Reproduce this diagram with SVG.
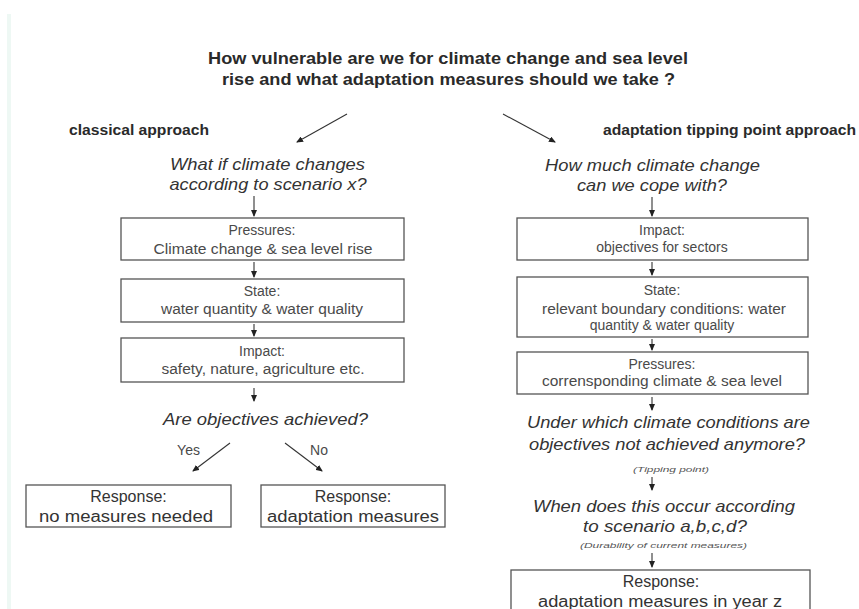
<svg xmlns="http://www.w3.org/2000/svg" width="859" height="609" viewBox="0 0 859 609">
<defs>
<style>
text{font-family:"Liberation Sans",Arial,sans-serif;text-anchor:middle}
.title{font-size:17px;font-weight:bold;fill:#2a2a2a}
.lbl{font-size:14px;font-weight:bold;fill:#2a2a2a}
.q{font-size:17px;font-style:italic;fill:#333}
.bt{font-size:14px;fill:#4a4a4a}
.rt{font-size:16px;fill:#333}
.small{font-size:8px;font-style:italic;fill:#555}
.box{fill:#fff;stroke:#555;stroke-width:1.3}
.arr{stroke:#333;stroke-width:1.1;fill:none;marker-end:url(#ah)}
</style>
<marker id="ah" markerWidth="7" markerHeight="6" refX="6" refY="3" orient="auto" markerUnits="userSpaceOnUse">
<path d="M0,0 L7,3 L0,6 z" fill="#222"/>
</marker>
</defs>
<rect width="859" height="609" fill="#fff"/>
<rect x="7" y="14" width="4" height="595" fill="#eef8f4"/>

<g id="title">
<text class="title" x="448" y="64" textLength="480" lengthAdjust="spacingAndGlyphs">How vulnerable are we for climate change and sea level</text>
<text class="title" x="448.5" y="85" textLength="453" lengthAdjust="spacingAndGlyphs">rise and what adaptation measures should we take ?</text>
</g>

<g id="label-classical"><text class="lbl" x="139" y="135" textLength="140" lengthAdjust="spacingAndGlyphs">classical approach</text></g>
<g id="label-tipping"><text class="lbl" x="729.5" y="135" textLength="253" lengthAdjust="spacingAndGlyphs">adaptation tipping point approach</text></g>

<g id="q-left">
<text class="q" x="267.5" y="170" textLength="195" lengthAdjust="spacingAndGlyphs">What if climate changes</text>
<text class="q" x="268" y="190" textLength="197" lengthAdjust="spacingAndGlyphs">according to scenario x?</text>
</g>
<g id="q-right">
<text class="q" x="652.5" y="171" textLength="215" lengthAdjust="spacingAndGlyphs">How much climate change</text>
<text class="q" x="652" y="191" textLength="150" lengthAdjust="spacingAndGlyphs">can we cope with?</text>
</g>

<g id="l-pressures">
<rect class="box" x="121" y="218" width="283" height="42"/>
<text class="bt" x="262" y="235">Pressures:</text>
<text class="bt" x="263" y="254" textLength="219" lengthAdjust="spacingAndGlyphs">Climate change &amp; sea level  rise</text>
</g>
<g id="l-state">
<rect class="box" x="121" y="279" width="283" height="43"/>
<text class="bt" x="262" y="296">State:</text>
<text class="bt" x="262" y="314" textLength="202" lengthAdjust="spacingAndGlyphs">water quantity  &amp; water quality</text>
</g>
<g id="l-impact">
<rect class="box" x="121" y="338" width="283" height="44"/>
<text class="bt" x="262" y="356">Impact:</text>
<text class="bt" x="263" y="374" textLength="203" lengthAdjust="spacingAndGlyphs">safety, nature,  agriculture etc.</text>
</g>

<g id="q-achieved"><text class="q" x="265.5" y="425" textLength="205" lengthAdjust="spacingAndGlyphs">Are objectives achieved?</text></g>
<g id="lbl-yes"><text class="bt" x="188.5" y="455">Yes</text></g>
<g id="lbl-no"><text class="bt" x="319" y="455">No</text></g>

<g id="resp-none">
<rect class="box" x="26" y="485" width="205" height="42"/>
<text class="rt" x="128.5" y="502">Response:</text>
<text class="rt" x="126" y="522" textLength="174" lengthAdjust="spacingAndGlyphs">no measures needed</text>
</g>
<g id="resp-adapt">
<rect class="box" x="261" y="485" width="184" height="42"/>
<text class="rt" x="353" y="502">Response:</text>
<text class="rt" x="353" y="522" textLength="172" lengthAdjust="spacingAndGlyphs">adaptation measures</text>
</g>

<g id="r-impact">
<rect class="box" x="517" y="218" width="291" height="42"/>
<text class="bt" x="662" y="235">Impact:</text>
<text class="bt" x="662" y="252">objectives for sectors</text>
</g>
<g id="r-state">
<rect class="box" x="517" y="277" width="291" height="60"/>
<text class="bt" x="662" y="295">State:</text>
<text class="bt" x="664" y="314" textLength="244" lengthAdjust="spacingAndGlyphs">relevant boundary conditions: water</text>
<text class="bt" x="662" y="330">quantity &amp; water quality</text>
</g>
<g id="r-pressures">
<rect class="box" x="517" y="352" width="291" height="42"/>
<text class="bt" x="662" y="369">Pressures:</text>
<text class="bt" x="662" y="386" textLength="240" lengthAdjust="spacingAndGlyphs">corrensponding climate &amp; sea level</text>
</g>

<g id="q-under">
<text class="q" x="668.5" y="428" textLength="283" lengthAdjust="spacingAndGlyphs">Under which climate conditions are</text>
<text class="q" x="667" y="450" textLength="276" lengthAdjust="spacingAndGlyphs">objectives not achieved anymore?</text>
<text class="small" x="671" y="472" textLength="76" lengthAdjust="spacingAndGlyphs">(Tipping point)</text>
</g>
<g id="q-when">
<text class="q" x="664" y="512" textLength="262" lengthAdjust="spacingAndGlyphs">When does this occur according</text>
<text class="q" x="665" y="532" textLength="164" lengthAdjust="spacingAndGlyphs">to scenario a,b,c,d?</text>
<text class="small" x="663.5" y="548" textLength="167" lengthAdjust="spacingAndGlyphs">(Durability of current measures)</text>
</g>
<g id="resp-year">
<rect class="box" x="511" y="570" width="299" height="50"/>
<text class="rt" x="661" y="587">Response:</text>
<text class="rt" x="660" y="607" textLength="244" lengthAdjust="spacingAndGlyphs">adaptation measures in year z</text>
</g>

<g id="connectors">
<line class="arr" x1="347" y1="114" x2="297" y2="142"/>
<line class="arr" x1="503" y1="114" x2="555" y2="142"/>
<line class="arr" x1="254" y1="196" x2="254" y2="216"/>
<line class="arr" x1="254" y1="262" x2="254" y2="277"/>
<line class="arr" x1="254" y1="324" x2="254" y2="336"/>
<line class="arr" x1="254" y1="388" x2="254" y2="401"/>
<line class="arr" x1="230" y1="443" x2="193" y2="471"/>
<line class="arr" x1="285" y1="443" x2="322" y2="471"/>
<line class="arr" x1="652" y1="197" x2="652" y2="216"/>
<line class="arr" x1="652" y1="262" x2="652" y2="275"/>
<line class="arr" x1="652" y1="339" x2="652" y2="350"/>
<line class="arr" x1="652" y1="397" x2="652" y2="410"/>
<line class="arr" x1="652" y1="477" x2="652" y2="490"/>
<line class="arr" x1="652" y1="553" x2="652" y2="567"/>
</g>
</svg>
